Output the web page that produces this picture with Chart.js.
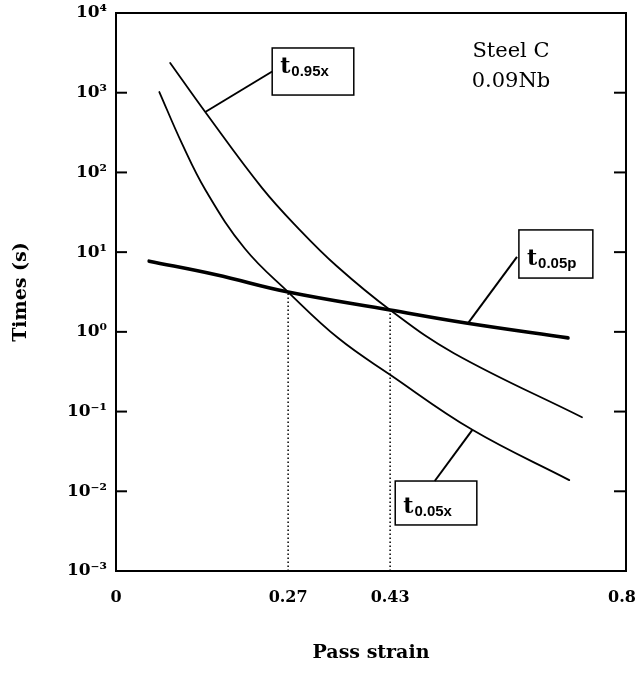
<!DOCTYPE html>
<html>
<head>
<meta charset="utf-8">
<script src="https://cdn.jsdelivr.net/npm/chart.js@4.4.1/dist/chart.umd.min.js"></script>
<style>
  html, body { margin: 0; padding: 0; background: #fff; }
  #wrap { width: 637px; height: 686px; position: relative; }
</style>
</head>
<body>
<div id="wrap"><canvas id="chart"></canvas></div>
<script>
// Times (s) against pass strain for Steel C (0.09Nb)
const strain95x = [0.085, 0.140, 0.229, 0.287, 0.347, 0.43, 0.530, 0.731];
const time95x   = [2360, 573, 64, 19.5, 6.6, 1.88, 0.54, 0.085];

const strain05x = [0.068, 0.103, 0.141, 0.202, 0.27, 0.349, 0.43, 0.559, 0.711];
const time05x   = [1020, 235, 59, 11.1, 3.16, 0.83, 0.29, 0.059, 0.0138];

const strain05p = [0.052, 0.157, 0.27, 0.43, 0.549, 0.709];
const time05p   = [7.7, 5.2, 3.16, 1.88, 1.29, 0.84];

// strains where the precipitation curve meets the recrystallisation curves
const markedStrains = [0.27, 0.43];

const xTicks = [0, 0.27, 0.43, 0.8];
const xTickLabels = ['0', '0.27', '0.43', '0.8'];
const yTicks = [1e-3, 1e-2, 1e-1, 1, 10, 100, 1000, 10000];
const yTickLabels = ['10⁻³', '10⁻²', '10⁻¹', '10⁰', '10¹', '10²', '10³', '10⁴'];

// boxed curve labels: box corners and leader ends in data units
const curveLabels = [
  { sub: '0.95x', box: [0.245, 0.373, 3640, 935],   from: [0.245, 1845],  to: [0.140, 573],  base: 25 },
  { sub: '0.05p', box: [0.632, 0.748, 19, 4.73],    from: [0.629, 8.7],   to: [0.552, 1.28], base: 35 },
  { sub: '0.05x', box: [0.438, 0.566, 0.01345, 0.00378], from: [0.500, 0.01345], to: [0.559, 0.059], base: 32 }
];
const noteLines = ['Steel C', '0.09Nb'];

const SERIF = '"DejaVu Serif", "Liberation Serif", serif';
const SANS = '"Liberation Sans", Arial, sans-serif';

const pts = (xs, ys) => xs.map((v, i) => ({ x: v, y: ys[i] }));

const overlay = {
  id: 'overlay',
  afterDatasetsDraw(chart) {
    const { ctx, chartArea: a, scales: { x, y } } = chart;
    const seg = (x0, y0, x1, y1) => { ctx.beginPath(); ctx.moveTo(x0, y0); ctx.lineTo(x1, y1); ctx.stroke(); };
    ctx.save();
    ctx.strokeStyle = '#000';
    ctx.fillStyle = '#000';

    // dotted drop lines from the crossings to the strain axis
    ctx.lineWidth = 1.5;
    ctx.setLineDash([1.5, 2.5]);
    markedStrains.forEach(s => {
      const i = strain05p.indexOf(s);
      const px = x.getPixelForValue(s);
      seg(px, a.bottom, px, y.getPixelForValue(time05p[i]));
    });
    ctx.setLineDash([]);

    // frame
    ctx.lineWidth = 2;
    ctx.strokeRect(a.left, a.top, a.right - a.left, a.bottom - a.top);

    // inward tick marks on both vertical sides
    yTicks.forEach(v => {
      const py = y.getPixelForValue(v);
      seg(a.left, py, a.left + 11, py);
      seg(a.right - 12, py, a.right, py);
    });

    // boxed labels with leaders
    curveLabels.forEach(l => {
      const bx0 = x.getPixelForValue(l.box[0]), bx1 = x.getPixelForValue(l.box[1]);
      const by0 = y.getPixelForValue(l.box[2]), by1 = y.getPixelForValue(l.box[3]);
      ctx.lineWidth = 1.5;
      ctx.strokeRect(bx0, by0, bx1 - bx0, by1 - by0);
      ctx.lineWidth = 2;
      seg(x.getPixelForValue(l.from[0]), y.getPixelForValue(l.from[1]),
          x.getPixelForValue(l.to[0]), y.getPixelForValue(l.to[1]));
      ctx.textBaseline = 'alphabetic';
      ctx.textAlign = 'left';
      ctx.font = 'bold 22px ' + SERIF;
      const tx = bx0 + 8, ty = by0 + l.base;
      ctx.fillText('t', tx, ty);
      const tw = ctx.measureText('t').width;
      ctx.font = 'bold 15px ' + SANS;
      ctx.fillText(l.sub, tx + tw + 1, ty + 3);
    });

    // material note
    ctx.font = '21px ' + SERIF;
    ctx.textAlign = 'center';
    noteLines.forEach((t, i) => ctx.fillText(t, a.right - 115, a.top + 44 + i * 30));
    ctx.restore();
  }
};

new Chart(document.getElementById('chart'), {
  type: 'line',
  data: {
    datasets: [
      { data: pts(strain95x, time95x), borderColor: '#000', borderWidth: 1.8 },
      { data: pts(strain05x, time05x), borderColor: '#000', borderWidth: 1.8 },
      { data: pts(strain05p, time05p), borderColor: '#000', borderWidth: 3.6 }
    ]
  },
  options: {
    responsive: true,
    maintainAspectRatio: false,
    animation: false,
    devicePixelRatio: 1,
    layout: { padding: { left: 0, top: 13, right: 11, bottom: 0 } },
    elements: {
      point: { radius: 0 },
      line: { tension: 0.4, fill: false, borderCapStyle: 'round' }
    },
    plugins: { legend: { display: false }, tooltip: { enabled: false } },
    scales: {
      x: {
        type: 'linear', min: 0, max: 0.8,
        afterBuildTicks: s => { s.ticks = xTicks.map(v => ({ value: v })); },
        afterFit: s => { s.height = 115; s.paddingLeft = 0; s.paddingRight = 0; },
        grid: { display: false, drawTicks: false },
        border: { display: false },
        ticks: {
          // the last label is nudged inwards so it stays inside the canvas
          callback: (v, i) => i === xTickLabels.length - 1 ? xTickLabels[i] + '\u2002' : xTickLabels[i],
          autoSkip: false, maxRotation: 0,
          color: '#000', padding: 17,
          font: { family: SERIF, weight: 'bold', size: 16 }
        },
        title: {
          display: true, text: 'Pass strain', color: '#000',
          font: { family: SERIF, weight: 'bold', size: 19 },
          padding: { top: 0, bottom: 22 }
        }
      },
      y: {
        type: 'logarithmic', min: 1e-3, max: 1e4,
        afterBuildTicks: s => { s.ticks = yTicks.map(v => ({ value: v, major: true })); },
        afterFit: s => { s.width = 116; s.paddingTop = 0; s.paddingBottom = 0; },
        grid: { display: false, drawTicks: false },
        border: { display: false },
        ticks: {
          callback: (v, i) => yTickLabels[i],
          autoSkip: false,
          color: '#000', padding: 9,
          font: { family: SERIF, weight: 'bold', size: 17 }
        },
        title: {
          display: true, text: 'Times (s)', color: '#000',
          font: { family: SERIF, weight: 'bold', size: 19 },
          padding: { top: 10, bottom: 0 }
        }
      }
    }
  },
  plugins: [overlay]
});
</script>
</body>
</html>
